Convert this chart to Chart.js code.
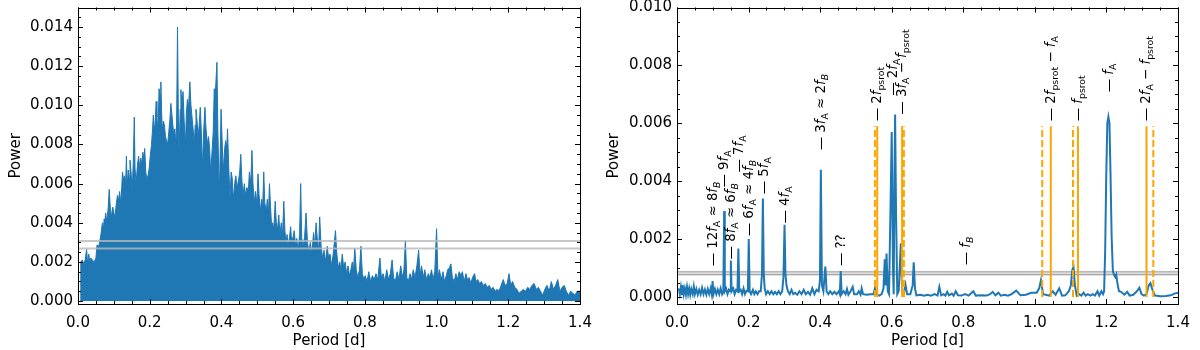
<!DOCTYPE html>
<html>
<head>
<meta charset="utf-8">
<script src="https://cdn.jsdelivr.net/npm/chart.js@4.4.0/dist/chart.umd.min.js"></script>
<style>
    html, body { margin: 0; padding: 0; background: #fff; }
    #wrap { position: relative; width: 1200px; height: 350px; }
    .panel { position: absolute; top: 0; width: 600px; height: 350px; }
</style>
</head>
<body>
<div id="wrap">
    <div class="panel" style="left:0"><canvas id="leftChart" width="600" height="350"></canvas></div>
    <div class="panel" style="left:600px"><canvas id="rightChart" width="600" height="350"></canvas></div>
</div>
<script>
// Tick labels
const periodTicks = [0, 0.2, 0.4, 0.6, 0.8, 1.0, 1.2, 1.4];
const leftPowerTicks = [0, 0.002, 0.004, 0.006, 0.008, 0.010, 0.012, 0.014];
const rightPowerTicks = [0, 0.002, 0.004, 0.006, 0.008, 0.010];

// Left panel: full periodogram (envelope)
const leftPeriods = [0.0075, 0.0078, 0.012, 0.016, 0.020, 0.024, 0.027, 0.030, 0.033, 0.036, 0.040, 0.045, 0.050, 0.053, 0.058, 0.061, 0.064, 0.068, 0.071, 0.073, 0.075, 0.077, 0.080, 0.084, 0.087, 0.090, 0.093, 0.097, 0.100, 0.103, 0.107, 0.110, 0.113, 0.116, 0.119, 0.122, 0.124, 0.127, 0.130, 0.133, 0.135, 0.137, 0.140, 0.143, 0.145, 0.148, 0.151, 0.154, 0.157, 0.159, 0.162, 0.166, 0.169, 0.172, 0.175, 0.178, 0.181, 0.184, 0.186, 0.189, 0.192, 0.195, 0.198, 0.202, 0.205, 0.208, 0.210, 0.213, 0.215, 0.218, 0.220, 0.222, 0.225, 0.226, 0.229, 0.231, 0.233, 0.235, 0.238, 0.241, 0.244, 0.247, 0.250, 0.253, 0.256, 0.259, 0.262, 0.264, 0.267, 0.270, 0.273, 0.275, 0.2775, 0.280, 0.282, 0.285, 0.287, 0.290, 0.293, 0.296, 0.300, 0.302, 0.305, 0.308, 0.312, 0.315, 0.318, 0.321, 0.324, 0.327, 0.329, 0.332, 0.335, 0.338, 0.341, 0.344, 0.347, 0.350, 0.354, 0.357, 0.361, 0.364, 0.367, 0.370, 0.373, 0.377, 0.380, 0.383, 0.3875, 0.390, 0.394, 0.397, 0.399, 0.402, 0.405, 0.409, 0.412, 0.415, 0.417, 0.420, 0.424, 0.427, 0.430, 0.433, 0.437, 0.440, 0.444, 0.448, 0.451, 0.454, 0.457, 0.460, 0.464, 0.467, 0.471, 0.475, 0.478, 0.482, 0.485, 0.488, 0.492, 0.495, 0.499, 0.502, 0.505, 0.509, 0.512, 0.515, 0.518, 0.521, 0.525, 0.528, 0.531, 0.534, 0.537, 0.540, 0.543, 0.546, 0.550, 0.553, 0.556, 0.560, 0.563, 0.567, 0.570, 0.574, 0.577, 0.580, 0.583, 0.586, 0.590, 0.593, 0.596, 0.600, 0.603, 0.607, 0.610, 0.614, 0.618, 0.621, 0.624, 0.628, 0.632, 0.636, 0.640, 0.644, 0.648, 0.652, 0.657, 0.660, 0.664, 0.668, 0.671, 0.674, 0.678, 0.682, 0.686, 0.690, 0.695, 0.699, 0.703, 0.707, 0.711, 0.715, 0.718, 0.722, 0.726, 0.730, 0.733, 0.737, 0.741, 0.745, 0.749, 0.753, 0.757, 0.761, 0.765, 0.768, 0.772, 0.776, 0.780, 0.785, 0.789, 0.793, 0.797, 0.801, 0.806, 0.811, 0.816, 0.821, 0.826, 0.831, 0.836, 0.842, 0.846, 0.851, 0.856, 0.861, 0.866, 0.871, 0.876, 0.880, 0.885, 0.890, 0.895, 0.900, 0.905, 0.909, 0.913, 0.917, 0.921, 0.926, 0.930, 0.935, 0.940, 0.945, 0.950, 0.954, 0.958, 0.963, 0.967, 0.972, 0.977, 0.981, 0.986, 0.990, 0.995, 1.000, 1.004, 1.008, 1.013, 1.018, 1.022, 1.027, 1.031, 1.036, 1.040, 1.044, 1.049, 1.054, 1.058, 1.063, 1.068, 1.072, 1.077, 1.082, 1.086, 1.091, 1.096, 1.100, 1.106, 1.110, 1.115, 1.120, 1.125, 1.130, 1.136, 1.141, 1.147, 1.152, 1.158, 1.163, 1.169, 1.174, 1.180, 1.186, 1.191, 1.197, 1.202, 1.207, 1.212, 1.218, 1.224, 1.230, 1.236, 1.242, 1.248, 1.254, 1.260, 1.266, 1.272, 1.278, 1.284, 1.290, 1.296, 1.302, 1.308, 1.314, 1.320, 1.326, 1.332, 1.338, 1.344, 1.350, 1.356, 1.362, 1.368, 1.374, 1.380, 1.386, 1.392, 1.400];
const leftPower = [0, 0.0020, 0.0021, 0.0019, 0.0021, 0.00264, 0.0019, 0.0024, 0.0020, 0.0022, 0.0021, 0.0020, 0.0022, 0.00286, 0.0028, 0.0031, 0.0034, 0.0040, 0.0037, 0.0042, 0.0040, 0.0045, 0.0041, 0.0047, 0.0057, 0.0048, 0.0043, 0.0048, 0.0045, 0.0043, 0.0050, 0.0054, 0.0051, 0.0056, 0.0050, 0.0058, 0.0066, 0.0062, 0.0064, 0.0060, 0.0074, 0.0058, 0.0067, 0.0063, 0.0072, 0.0066, 0.0056, 0.0070, 0.0094, 0.0068, 0.0060, 0.0070, 0.0074, 0.0068, 0.0073, 0.0070, 0.0076, 0.0072, 0.0078, 0.0066, 0.0062, 0.0064, 0.0067, 0.0075, 0.0080, 0.0088, 0.0095, 0.0088, 0.0090, 0.0102, 0.0094, 0.0088, 0.0100, 0.01085, 0.0105, 0.0112, 0.0098, 0.0087, 0.0092, 0.0090, 0.0084, 0.0082, 0.0080, 0.0086, 0.0092, 0.0101, 0.0095, 0.0091, 0.0085, 0.0088, 0.0080, 0.0090, 0.0140, 0.0092, 0.0076, 0.0098, 0.0108, 0.0100, 0.0107, 0.0092, 0.0080, 0.0095, 0.0103, 0.0098, 0.0112, 0.0100, 0.0094, 0.0088, 0.0080, 0.0090, 0.0098, 0.0092, 0.0084, 0.0090, 0.0099, 0.0086, 0.0068, 0.0085, 0.0099, 0.0088, 0.0080, 0.0084, 0.0078, 0.0066, 0.0074, 0.0086, 0.01085, 0.0106, 0.0122, 0.0088, 0.0053, 0.0080, 0.0098, 0.0082, 0.0066, 0.0078, 0.0082, 0.0078, 0.0088, 0.0070, 0.0052, 0.0066, 0.0063, 0.0052, 0.0060, 0.0064, 0.0058, 0.0062, 0.0066, 0.0075, 0.0062, 0.0054, 0.0060, 0.0054, 0.0058, 0.0056, 0.0066, 0.0060, 0.0077, 0.0060, 0.0050, 0.0056, 0.0050, 0.0065, 0.0054, 0.0046, 0.0052, 0.0048, 0.0066, 0.0050, 0.0046, 0.0052, 0.0044, 0.0060, 0.0048, 0.0038, 0.0040, 0.0036, 0.0051, 0.0040, 0.0036, 0.0044, 0.0034, 0.0040, 0.0032, 0.0051, 0.0036, 0.0030, 0.0034, 0.0028, 0.0033, 0.0038, 0.0030, 0.0033, 0.0036, 0.0028, 0.0032, 0.0026, 0.0034, 0.0060, 0.0032, 0.0028, 0.0033, 0.0045, 0.0030, 0.0025, 0.0030, 0.0024, 0.0035, 0.0028, 0.0040, 0.0030, 0.0026, 0.0043, 0.0028, 0.0022, 0.0026, 0.0020, 0.0028, 0.0022, 0.0024, 0.0018, 0.0023, 0.0030, 0.0036, 0.0024, 0.0017, 0.0020, 0.0016, 0.0024, 0.0017, 0.0020, 0.0014, 0.0018, 0.0013, 0.0016, 0.0020, 0.0015, 0.0027, 0.0016, 0.0012, 0.0016, 0.0028, 0.0014, 0.0011, 0.0013, 0.0010, 0.0015, 0.0010, 0.0013, 0.0011, 0.0014, 0.0011, 0.0022, 0.0012, 0.0014, 0.0010, 0.0016, 0.0011, 0.0014, 0.0021, 0.0012, 0.0010, 0.0015, 0.0011, 0.0018, 0.0012, 0.0016, 0.0031, 0.0012, 0.0010, 0.0014, 0.0011, 0.0016, 0.0012, 0.0018, 0.0026, 0.0013, 0.0018, 0.0012, 0.0016, 0.0011, 0.0014, 0.0012, 0.0016, 0.0011, 0.0015, 0.0037, 0.0012, 0.0016, 0.0011, 0.0015, 0.0010, 0.0013, 0.0016, 0.0017, 0.0019, 0.0012, 0.0010, 0.0014, 0.0011, 0.0015, 0.0013, 0.0015, 0.0010, 0.0014, 0.0011, 0.0012, 0.0009, 0.0012, 0.0014, 0.0010, 0.0011, 0.0009, 0.0010, 0.0008, 0.0009, 0.0007, 0.0008, 0.0006, 0.0007, 0.0005, 0.0006, 0.0005, 0.0008, 0.0011, 0.0008, 0.0009, 0.0014, 0.0008, 0.0010, 0.0007, 0.0006, 0.0004, 0.0005, 0.0006, 0.0005, 0.0007, 0.0006, 0.0008, 0.0009, 0.0006, 0.0007, 0.0005, 0.0003, 0.0006, 0.0008, 0.0005, 0.0010, 0.0006, 0.0008, 0.0011, 0.0005, 0.0007, 0.0008, 0.0005, 0.0003, 0.0005, 0.0004, 0.0003, 0.0005, 0.0005];
const leftThresholds = [0.00269, 0.00307];

// Right panel: periodogram of the residuals
const rightPeriods = [0.005, 0.008, 0.011, 0.014, 0.016, 0.019, 0.022, 0.025, 0.028, 0.031, 0.034, 0.037, 0.040, 0.044, 0.047, 0.050, 0.054, 0.058, 0.062, 0.066, 0.070, 0.074, 0.078, 0.082, 0.086, 0.090, 0.094, 0.097, 0.0995, 0.102, 0.106, 0.110, 0.114, 0.118, 0.122, 0.126, 0.1295, 0.1318, 0.1335, 0.137, 0.141, 0.145, 0.1485, 0.1505, 0.1525, 0.157, 0.161, 0.165, 0.169, 0.1715, 0.174, 0.178, 0.182, 0.186, 0.190, 0.194, 0.198, 0.2005, 0.203, 0.207, 0.212, 0.216, 0.220, 0.225, 0.229, 0.234, 0.2375, 0.240, 0.2425, 0.245, 0.249, 0.254, 0.259, 0.264, 0.269, 0.274, 0.279, 0.284, 0.289, 0.294, 0.2975, 0.3005, 0.303, 0.306, 0.310, 0.315, 0.320, 0.325, 0.330, 0.336, 0.342, 0.348, 0.354, 0.360, 0.366, 0.372, 0.378, 0.384, 0.390, 0.396, 0.3995, 0.402, 0.405, 0.409, 0.4145, 0.418, 0.423, 0.428, 0.434, 0.440, 0.446, 0.452, 0.455, 0.4575, 0.460, 0.466, 0.471, 0.475, 0.479, 0.485, 0.491, 0.495, 0.503, 0.508, 0.513, 0.516, 0.520, 0.530, 0.540, 0.549, 0.553, 0.557, 0.565, 0.572, 0.577, 0.5805, 0.583, 0.5855, 0.589, 0.5925, 0.5965, 0.600, 0.6035, 0.6055, 0.6075, 0.6095, 0.612, 0.6155, 0.6195, 0.6255, 0.629, 0.6335, 0.6385, 0.643, 0.652, 0.6585, 0.6615, 0.665, 0.669, 0.680, 0.690, 0.700, 0.710, 0.720, 0.728, 0.733, 0.738, 0.745, 0.750, 0.755, 0.760, 0.768, 0.773, 0.779, 0.785, 0.795, 0.805, 0.815, 0.828, 0.835, 0.850, 0.865, 0.875, 0.882, 0.890, 0.898, 0.905, 0.915, 0.925, 0.935, 0.948, 0.960, 0.975, 0.990, 1.005, 1.012, 1.017, 1.023, 1.030, 1.040, 1.050, 1.058, 1.068, 1.076, 1.085, 1.095, 1.1005, 1.105, 1.108, 1.112, 1.117, 1.124, 1.130, 1.136, 1.142, 1.148, 1.155, 1.162, 1.168, 1.175, 1.180, 1.186, 1.1905, 1.1935, 1.1965, 1.1995, 1.2025, 1.2055, 1.2085, 1.2115, 1.2145, 1.218, 1.2215, 1.2245, 1.2275, 1.2305, 1.235, 1.241, 1.250, 1.258, 1.265, 1.275, 1.285, 1.292, 1.298, 1.305, 1.312, 1.318, 1.323, 1.330, 1.336, 1.350, 1.365, 1.380, 1.390, 1.400];
const rightPower = [0.0003, 0.0001, 0.00035, 0.0001, 0.00042, 0.0001, 0.0003, 0.00008, 0.00035, 0.0001, 0.0003, 0.00008, 0.00028, 0.0001, 0.00036, 0.0001, 0.00028, 0.00008, 0.00025, 0.0001, 0.00032, 0.0001, 0.00026, 0.00008, 0.00028, 0.0001, 0.0003, 0.0001, 0.00055, 0.0001, 0.00028, 0.0001, 0.00026, 0.0001, 0.0003, 0.0001, 0.0002, 0.00297, 0.0002, 0.0003, 0.0001, 0.00025, 0.0002, 0.00126, 0.0002, 0.0003, 0.0001, 0.00025, 0.0002, 0.00168, 0.0002, 0.00025, 0.0001, 0.0003, 0.0001, 0.00022, 0.0002, 0.0020, 0.0002, 0.0001, 0.00025, 0.0001, 0.0002, 0.0001, 0.0002, 0.0002, 0.0008, 0.0034, 0.0008, 0.0003, 0.0001, 0.0002, 0.0001, 0.0002, 0.0001, 0.00018, 0.0001, 0.0002, 0.0001, 0.0002, 0.0007, 0.0025, 0.0008, 0.0004, 0.0002, 0.0001, 0.00025, 0.0001, 0.00015, 0.00008, 0.0002, 0.0001, 0.00025, 0.0001, 0.00018, 0.00008, 0.0003, 0.0001, 0.00025, 0.0002, 0.0006, 0.0044, 0.0004, 0.0002, 0.00105, 0.0002, 0.0001, 0.0002, 0.0001, 0.00018, 0.0001, 0.0002, 0.0001, 0.0009, 0.0001, 0.0002, 0.0001, 0.00028, 0.00008, 0.0002, 0.00035, 0.0001, 0.0001, 0.0002, 0.00008, 0.0003, 0.0001, 0.00008, 0.0001, 0.0001, 0.0003, 0.0001, 0.00005, 0.0001, 0.0003, 0.0013, 0.0004, 0.0015, 0.0002, 0.0001, 0.0030, 0.0057, 0.0010, 0.0001, 0.0040, 0.0063, 0.0030, 0.0001, 0.0002, 0.00186, 0.0002, 0.0001, 0.00043, 0.0001, 0.0001, 0.0004, 0.0012, 0.0003, 0.00006, 0.00008, 0.00005, 0.00008, 0.00005, 0.0001, 0.00005, 0.00035, 0.00006, 0.0001, 0.00005, 0.00018, 0.00006, 0.00012, 0.00005, 0.0002, 0.00006, 0.00005, 0.0001, 0.00005, 0.0002, 0.00005, 0.00006, 0.00005, 0.0001, 0.00018, 0.00006, 0.00015, 0.00005, 0.00008, 0.00005, 0.0001, 0.00022, 0.00006, 0.00008, 0.00015, 0.00015, 0.0003, 0.00058, 0.0001, 0.00008, 0.00005, 0.0002, 0.00008, 0.0003, 0.00005, 0.00006, 0.0002, 0.0004, 0.00095, 0.00103, 0.0004, 0.00005, 0.0001, 0.00005, 0.00015, 0.00005, 0.0001, 0.00005, 0.0001, 0.00005, 0.0002, 0.00005, 0.0002, 0.0001, 0.0002, 0.0016, 0.0042, 0.0060, 0.00623, 0.0060, 0.0042, 0.0021, 0.0009, 0.00076, 0.0007, 0.00078, 0.0005, 0.0002, 0.00018, 0.00008, 0.00018, 0.00005, 0.00008, 0.0002, 0.00032, 0.0001, 0.00005, 0.0001, 0.0004, 0.00048, 0.0002, 0.00005, 0.00003, 0.00004, 0.00006, 0.00012, 0.00015];
const rightThresholds = [0.00078, 0.00087];
const rightThresholdBand = [0.00073, 0.00091];

// Rotation-period markers (orange)
const solidMarkers = [0.5595, 0.629, 1.0445, 1.1205, 1.312];
const dashedMarkers = [0.553, 0.634, 1.0205, 1.1065, 1.331];
const markerTop = 0.0059;

// Peak labels
const labelPeriods = [0.099, 0.1318, 0.150, 0.1715, 0.2003, 0.2415, 0.3012, 0.402, 0.457, 0.5595, 0.6025, 0.6288, 0.8075, 1.0440, 1.1205, 1.2064, 1.3112];
const labelPowers = [0.00106, 0.00378, 0.0013, 0.0043, 0.0021, 0.00355, 0.00254, 0.00507, 0.00107, 0.00607, 0.00695, 0.0063, 0.0011, 0.00607, 0.00607, 0.00707, 0.00607];
const labelTexts = [
    '— 12*f*_{A} ≈ 8*f*_{*B*}', '— 9*f*_{A}', '— 8*f*_{A} ≈ 6*f*_{*B*}', '— 7*f*_{A}',
    '— 6*f*_{A} ≈ 4*f*_{*B*}', '— 5*f*_{A}', '— 4*f*_{A}', '— 3*f*_{A} ≈ 2*f*_{*B*}', '— ??',
    '— 2*f*_{psrot}', '— 2*f*_{A}', '— 3*f*_{A} − *f*_{psrot}', '— *f*_{*B*}',
    '— 2*f*_{psrot} − *f*_{A}', '— *f*_{psrot}', '— *f*_{A}', '— 2*f*_{A} − *f*_{psrot}'
];

const FONT = "'DejaVu Sans', sans-serif";
const BLUE = '#1f77b4';
const ORANGE = '#ffa500';

Chart.defaults.font.family = FONT;
Chart.defaults.font.size = 15;
Chart.defaults.color = '#000';

/**
 * Inward matplotlib-style ticks on all four sides plus the frame
 */
const frameTicksPlugin = {
    id: 'frameTicks',
    afterDatasetsDraw(chart, args, opts) {
        const { ctx, chartArea: a, scales } = chart;
        const xs = scales.x;
        const ys = scales.y;
        ctx.save();
        ctx.strokeStyle = '#000';
        ctx.lineWidth = 1;
        ctx.beginPath();

        const tickX = (v, len) => {
            const px = Math.round(xs.getPixelForValue(v)) + 0.5;
            ctx.moveTo(px, a.bottom); ctx.lineTo(px, a.bottom - len);
            ctx.moveTo(px, a.top); ctx.lineTo(px, a.top + len);
        };
        const tickY = (v, len) => {
            const py = Math.round(ys.getPixelForValue(v)) + 0.5;
            ctx.moveTo(a.left, py); ctx.lineTo(a.left + len, py);
            ctx.moveTo(a.right, py); ctx.lineTo(a.right - len, py);
        };

        xs.ticks.forEach(t => tickX(t.value, 5));
        ys.ticks.forEach(t => tickY(t.value, 5));

        for (let k = Math.ceil(xs.min / opts.xMinor); k * opts.xMinor <= xs.max + 1e-9; k++) {
            tickX(k * opts.xMinor, 3);
        }
        for (let k = Math.ceil(ys.min / opts.yMinor); k * opts.yMinor <= ys.max + 1e-12; k++) {
            tickY(k * opts.yMinor, 3);
        }
        ctx.stroke();

        ctx.strokeRect(Math.round(a.left) + 0.5, Math.round(a.top) + 0.5,
            Math.round(a.right) - Math.round(a.left), Math.round(a.bottom) - Math.round(a.top));
        ctx.restore();
    }
};

/**
 * Split a label into plain / italic / subscript pieces
 */
function parseLabel(text) {
    const parts = [];
    let italic = false;
    let sub = false;
    let buf = '';
    const flush = () => {
        if (buf) parts.push({ t: buf, italic: italic, sub: sub });
        buf = '';
    };
    for (let i = 0; i < text.length; i++) {
        const c = text[i];
        if (c === '*') { flush(); italic = !italic; }
        else if (c === '_' && text[i + 1] === '{') { flush(); sub = true; i++; }
        else if (c === '}' && sub) { flush(); sub = false; }
        else buf += c;
    }
    flush();
    return parts;
}

/**
 * Rotated peak labels
 */
const peakLabelsPlugin = {
    id: 'peakLabels',
    afterDatasetsDraw(chart, args, opts) {
        if (!opts.texts) return;
        const { ctx, scales } = chart;
        const size = opts.size;
        ctx.save();
        ctx.fillStyle = '#000';
        ctx.textAlign = 'left';
        ctx.textBaseline = 'alphabetic';
        opts.texts.forEach((text, i) => {
            const px = scales.x.getPixelForValue(opts.periods[i]);
            const py = scales.y.getPixelForValue(opts.powers[i]);
            ctx.save();
            ctx.translate(px, py);
            ctx.rotate(-Math.PI / 2);
            let cx = 0;
            parseLabel(text).forEach(seg => {
                const s = seg.sub ? size * 0.7 : size;
                ctx.font = (seg.italic ? 'italic ' : '') + s + 'px ' + FONT;
                ctx.fillText(seg.t, cx, size * 0.32 + (seg.sub ? size * 0.22 : 0));
                cx += ctx.measureText(seg.t).width;
            });
            ctx.restore();
        });
        ctx.restore();
    }
};

/**
 * Shared options for both panels
 */
function panelOptions(yMin, yMax, yTicks, yWidth, rightPad, titlePad, labels) {
    return {
        responsive: false,
        animation: false,
        events: [],
        layout: { padding: { left: 0, right: rightPad, top: 7.5, bottom: 0 } },
        plugins: {
            legend: { display: false },
            tooltip: { enabled: false },
            frameTicks: { xMinor: 0.05, yMinor: 0.0005 },
            peakLabels: labels
        },
        scales: {
            x: {
                type: 'linear',
                min: 0,
                max: 1.4,
                grid: { display: false, drawTicks: false },
                border: { display: false },
                afterBuildTicks: s => { s.ticks = periodTicks.map(v => ({ value: v })); },
                afterFit: s => { s.height = 46; s.paddingLeft = 0; s.paddingRight = 0; },
                ticks: { autoSkip: false, maxRotation: 0, padding: 10, callback: v => v.toFixed(1) },
                title: { display: true, text: 'Period [d]', padding: { top: 0, bottom: 0 } }
            },
            y: {
                type: 'linear',
                min: yMin,
                max: yMax,
                grid: { display: false, drawTicks: false },
                border: { display: false },
                afterBuildTicks: s => { s.ticks = yTicks.map(v => ({ value: v })); },
                afterFit: s => { s.width = yWidth; s.paddingTop = 0; s.paddingBottom = 0; },
                ticks: { autoSkip: false, padding: 5, callback: v => v.toFixed(3) },
                title: { display: true, text: 'Power', padding: { top: titlePad, bottom: 0 } }
            }
        }
    };
}

function hLine(value, color, width, order) {
    return {
        data: [{ x: 0, y: value }, { x: 1.4, y: value }],
        borderColor: color, borderWidth: width, pointRadius: 0, fill: false, order: order
    };
}

document.addEventListener('DOMContentLoaded', function() {
    initLeftChart();
    initRightChart();
});

/**
 * Left panel: periodogram of the light curve
 */
function initLeftChart() {
    const datasets = [{
        data: leftPeriods.map((p, i) => ({ x: p, y: leftPower[i] })),
        borderColor: BLUE,
        backgroundColor: BLUE,
        borderWidth: 1,
        pointRadius: 0,
        tension: 0,
        fill: 'origin',
        order: 3
    }];
    leftThresholds.forEach(t => datasets.push(hLine(t, 'rgba(185,185,185,0.8)', 2, 1)));

    new Chart(document.getElementById('leftChart'), {
        type: 'line',
        data: { datasets: datasets },
        options: panelOptions(-0.00015, 0.015, leftPowerTicks, 78, 20, 7, {}),
        plugins: [frameTicksPlugin, peakLabelsPlugin]
    });
}

/**
 * Right panel: residual periodogram with identified peaks
 */
function initRightChart() {
    const datasets = [{
        data: rightPeriods.map((p, i) => ({ x: p, y: rightPower[i] })),
        borderColor: BLUE,
        borderWidth: 2,
        pointRadius: 0,
        tension: 0,
        fill: false,
        order: 3
    }, {
        data: [{ x: 0, y: rightThresholdBand[1] }, { x: 1.4, y: rightThresholdBand[1] }],
        borderWidth: 0,
        pointRadius: 0,
        backgroundColor: 'rgba(205,205,205,0.6)',
        fill: { value: rightThresholdBand[0] },
        order: 5
    }];
    rightThresholds.forEach(t => datasets.push(hLine(t, 'rgba(150,150,150,0.8)', 1, 4)));

    solidMarkers.forEach(p => datasets.push({
        data: [{ x: p, y: 0 }, { x: p, y: markerTop }],
        borderColor: ORANGE, borderWidth: 2, pointRadius: 0, fill: false, order: 1
    }));
    dashedMarkers.forEach(p => datasets.push({
        data: [{ x: p, y: 0 }, { x: p, y: markerTop }],
        borderColor: ORANGE, borderWidth: 2, borderDash: [7, 3], pointRadius: 0, fill: false, order: 1
    }));

    new Chart(document.getElementById('rightChart'), {
        type: 'line',
        data: { datasets: datasets },
        options: panelOptions(-0.00024, 0.010, rightPowerTicks, 77, 22, 5,
            { periods: labelPeriods, powers: labelPowers, texts: labelTexts, size: 13.33 }),
        plugins: [frameTicksPlugin, peakLabelsPlugin]
    });
    console.log('Periodogram panels drawn');
}
</script>
</body>
</html>
